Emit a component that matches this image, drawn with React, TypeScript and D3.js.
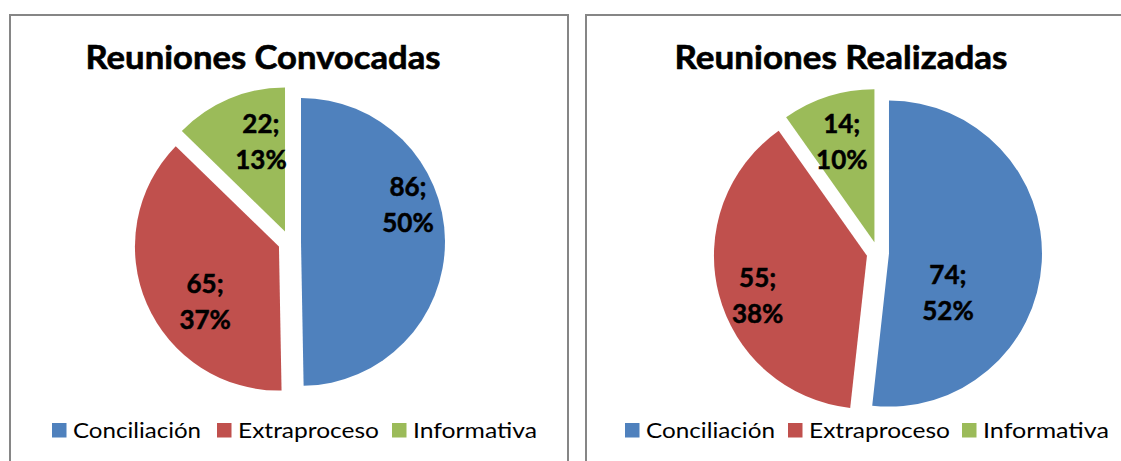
import React from 'react';
import * as d3 from 'd3';

// Datos
const categories = ['Conciliación', 'Extraproceso', 'Informativa'];
const convocadas = [86, 65, 22];
const convocadasPct = ['50%', '37%', '13%'];
const realizadas = [74, 55, 14];
const realizadasPct = ['52%', '38%', '10%'];

const COLORS = ['#4F81BD', '#C0504D', '#9BBB59'];
const FONT = 'Lato, Carlito, Calibri, sans-serif';

type PieSpec = {
  title: string;
  values: number[];
  pct: string[];
  panelX: number;
  panelW: number;
  titleX: number;
  titleW: number;
  cx: number;
  cy: number;
  r: number;
  explode: number;
  // label placement: angle (deg, clockwise from top) and radius fraction per slice
  labelAngle: number[];
  labelR: number[];
  legendX: number[];
  legendTextW: number[];
};

const charts: PieSpec[] = [
  {
    title: 'Reuniones Convocadas',
    values: convocadas,
    pct: convocadasPct,
    panelX: 10, panelW: 558,
    titleX: 263, titleW: 355,
    cx: 289.5, cy: 242, r: 144, explode: 11.5,
    labelAngle: [71, 233, 345],
    labelR: [0.786, 0.642, 0.646],
    legendX: [52, 217, 392],
    legendTextW: [128, 141, 124],
  },
  {
    title: 'Reuniones Realizadas',
    values: realizadas,
    pct: realizadasPct,
    panelX: 586, panelW: 560,
    titleX: 841, titleW: 333,
    cx: 877.8, cy: 253, r: 153, explode: 11.2,
    labelAngle: [124, 250, 342],
    labelR: [0.465, 0.76, 0.69],
    legendX: [625, 788, 962],
    legendTextW: [129, 141, 126],
  },
];

function PieChart({ spec }: { spec: PieSpec }) {
  const pie = d3.pie<number>().sort(null).value(d => d)(spec.values);
  const arc = d3.arc<d3.PieArcDatum<number>>().innerRadius(0).outerRadius(spec.r);
  const rad = Math.PI / 180;

  return (
    <g>
      <rect x={spec.panelX} y={15} width={spec.panelW} height={470}
        fill="#fff" stroke="#868686" strokeWidth={2} />
      <text x={spec.titleX} y={69} textAnchor="middle" fontFamily={FONT}
        fontWeight={700} fontSize={32} fill="#000" stroke="#000" strokeWidth={0.6}
        textLength={spec.titleW} lengthAdjust="spacingAndGlyphs">{spec.title}</text>

      {pie.map((p, i) => {
        const mid = (p.startAngle + p.endAngle) / 2;
        const ox = spec.cx + spec.explode * Math.sin(mid);
        const oy = spec.cy - spec.explode * Math.cos(mid);
        const la = spec.labelAngle[i] * rad;
        const lr = spec.labelR[i] * spec.r;
        const [lx, ly] = d3.arc().innerRadius(lr).outerRadius(lr)
          .startAngle(la).endAngle(la).centroid({} as any);
        return (
          <g key={i} transform={`translate(${ox},${oy})`}>
            <path d={arc(p) || ''} fill={COLORS[i]} />
            <g fontFamily={FONT} fontWeight={700} fontSize={26} fill="#000"
              stroke="#000" strokeWidth={0.5} textAnchor="middle">
              <text x={lx} y={ly - 9}>{`${p.data};`}</text>
              <text x={lx} y={ly + 27}>{spec.pct[i]}</text>
            </g>
          </g>
        );
      })}

      {categories.map((c, i) => (
        <g key={c} transform={`translate(${spec.legendX[i]},423)`}>
          <rect x={0} y={0} width={14.5} height={14.5} fill={COLORS[i]} />
          <text x={21} y={15} fontFamily={FONT} fontSize={21.5} fill="#000"
            textLength={spec.legendTextW[i]} lengthAdjust="spacingAndGlyphs">{c}</text>
        </g>
      ))}
    </g>
  );
}

export default function App() {
  return (
    <svg width={1121} height={461}
      style={{ position: 'absolute', left: 0, top: 0, background: '#fff' }}>
      {charts.map(s => <PieChart key={s.title} spec={s} />)}
    </svg>
  );
}
